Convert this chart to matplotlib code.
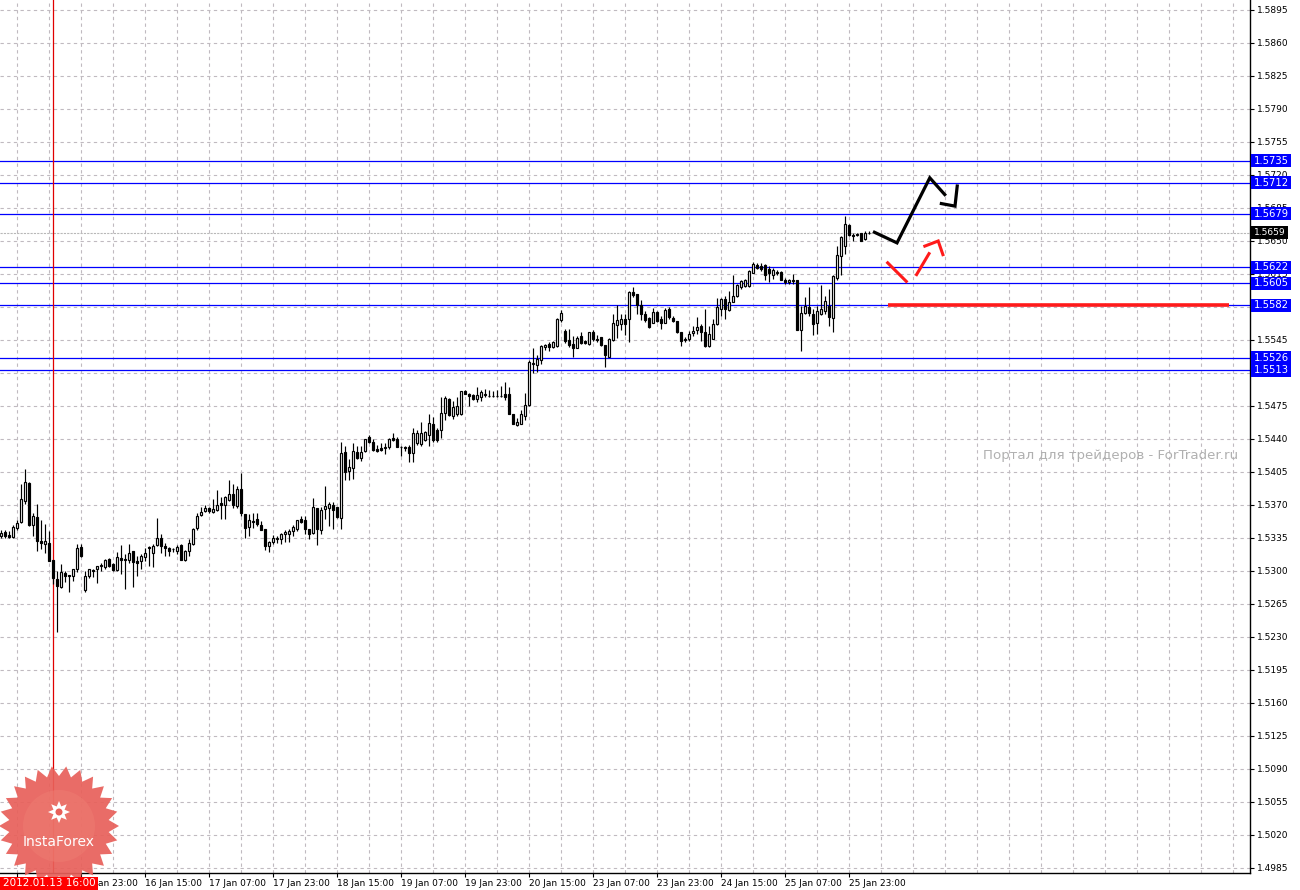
import matplotlib
matplotlib.use('Agg')
import matplotlib.pyplot as plt
import matplotlib.transforms as mtransforms
from matplotlib.patches import Rectangle, Polygon
import numpy as np

# ---------------- data (hourly bars) ----------------
opens = [
    1.5337, 1.5341, 1.5338, 1.5336, 1.5346, 1.5352, 1.5374, 1.5393, 1.5349, 1.5357,
    1.5332, 1.5329, 1.5330, 1.5312, 1.5292, 1.5283, 1.5298, 1.5296, 1.5295, 1.5302,
    1.5325, 1.5280, 1.5295, 1.5301, 1.5302, 1.5305, 1.5304, 1.5313, 1.5307, 1.5301,
    1.5314, 1.5313, 1.5312, 1.5321, 1.5311, 1.5311, 1.5315, 1.5325, 1.5319, 1.5328,
    1.5335, 1.5326, 1.5324, 1.5323, 1.5321, 1.5328, 1.5312, 1.5321, 1.5329, 1.5346,
    1.5359, 1.5364, 1.5367, 1.5363, 1.5365, 1.5372, 1.5370, 1.5375, 1.5382, 1.5369,
    1.5387, 1.5360, 1.5347, 1.5352, 1.5355, 1.5349, 1.5345, 1.5327, 1.5331, 1.5334,
    1.5334, 1.5339, 1.5339, 1.5342, 1.5345, 1.5355, 1.5354, 1.5345, 1.5340, 1.5367,
    1.5344, 1.5366, 1.5367, 1.5370, 1.5368, 1.5356, 1.5426, 1.5406, 1.5409, 1.5426,
    1.5420, 1.5427, 1.5442, 1.5437, 1.5429, 1.5430, 1.5430, 1.5431, 1.5441, 1.5440,
    1.5431, 1.5431, 1.5431, 1.5425, 1.5436, 1.5435, 1.5439, 1.5444, 1.5456, 1.5450,
    1.5450, 1.5468, 1.5482, 1.5464, 1.5466, 1.5466, 1.5491, 1.5488, 1.5487, 1.5482,
    1.5485, 1.5488, 1.5486, 1.5486, 1.5486, 1.5486, 1.5488, 1.5488, 1.5467, 1.5455,
    1.5456, 1.5464, 1.5476, 1.5520, 1.5519, 1.5524, 1.5538, 1.5541, 1.5538, 1.5539,
    1.5566, 1.5555, 1.5545, 1.5541, 1.5537, 1.5549, 1.5544, 1.5541, 1.5554, 1.5546,
    1.5548, 1.5540, 1.5527, 1.5545, 1.5561, 1.5562, 1.5567, 1.5567, 1.5596, 1.5594,
    1.5582, 1.5573, 1.5568, 1.5563, 1.5575, 1.5567, 1.5563, 1.5578, 1.5568, 1.5565,
    1.5553, 1.5546, 1.5546, 1.5552, 1.5556, 1.5560, 1.5554, 1.5539, 1.5546, 1.5562,
    1.5578, 1.5589, 1.5577, 1.5585, 1.5592, 1.5601, 1.5602, 1.5602, 1.5616, 1.5625,
    1.5624, 1.5625, 1.5620, 1.5614, 1.5617, 1.5617, 1.5609, 1.5607, 1.5609, 1.5609,
    1.5556, 1.5574, 1.5580, 1.5573, 1.5563, 1.5573, 1.5576, 1.5581, 1.5568, 1.5611,
    1.5634, 1.5645, 1.5667, 1.5656, 1.5656, 1.5658, 1.5652, 1.5659,
]
highs = [
    1.5344, 1.5344, 1.5342, 1.5349, 1.5354, 1.5392, 1.5408, 1.5394, 1.5362, 1.5371,
    1.5354, 1.5350, 1.5342, 1.5312, 1.5300, 1.5307, 1.5300, 1.5296, 1.5302, 1.5329,
    1.5329, 1.5300, 1.5302, 1.5302, 1.5305, 1.5308, 1.5313, 1.5314, 1.5308, 1.5320,
    1.5328, 1.5318, 1.5329, 1.5321, 1.5316, 1.5318, 1.5324, 1.5327, 1.5329, 1.5356,
    1.5339, 1.5330, 1.5325, 1.5324, 1.5328, 1.5329, 1.5322, 1.5334, 1.5346, 1.5361,
    1.5368, 1.5370, 1.5368, 1.5376, 1.5386, 1.5379, 1.5380, 1.5397, 1.5392, 1.5390,
    1.5404, 1.5360, 1.5360, 1.5362, 1.5361, 1.5353, 1.5345, 1.5332, 1.5338, 1.5337,
    1.5340, 1.5344, 1.5345, 1.5349, 1.5354, 1.5358, 1.5358, 1.5345, 1.5377, 1.5367,
    1.5368, 1.5390, 1.5373, 1.5373, 1.5368, 1.5437, 1.5433, 1.5419, 1.5436, 1.5433,
    1.5433, 1.5440, 1.5444, 1.5440, 1.5434, 1.5436, 1.5436, 1.5441, 1.5446, 1.5442,
    1.5433, 1.5433, 1.5434, 1.5452, 1.5450, 1.5458, 1.5448, 1.5466, 1.5463, 1.5452,
    1.5485, 1.5486, 1.5483, 1.5480, 1.5485, 1.5491, 1.5492, 1.5489, 1.5488, 1.5495,
    1.5492, 1.5493, 1.5492, 1.5491, 1.5492, 1.5496, 1.5500, 1.5495, 1.5467, 1.5462,
    1.5471, 1.5489, 1.5524, 1.5536, 1.5529, 1.5540, 1.5541, 1.5543, 1.5544, 1.5568,
    1.5577, 1.5557, 1.5557, 1.5549, 1.5549, 1.5554, 1.5545, 1.5554, 1.5556, 1.5550,
    1.5548, 1.5540, 1.5547, 1.5573, 1.5582, 1.5573, 1.5573, 1.5597, 1.5601, 1.5594,
    1.5587, 1.5576, 1.5569, 1.5579, 1.5576, 1.5570, 1.5579, 1.5580, 1.5570, 1.5565,
    1.5554, 1.5548, 1.5555, 1.5560, 1.5569, 1.5562, 1.5578, 1.5560, 1.5567, 1.5590,
    1.5590, 1.5592, 1.5597, 1.5614, 1.5604, 1.5609, 1.5610, 1.5619, 1.5628, 1.5627,
    1.5627, 1.5626, 1.5623, 1.5621, 1.5619, 1.5618, 1.5611, 1.5610, 1.5615, 1.5609,
    1.5581, 1.5591, 1.5601, 1.5578, 1.5581, 1.5603, 1.5592, 1.5599, 1.5614, 1.5645,
    1.5655, 1.5677, 1.5668, 1.5659, 1.5659, 1.5659, 1.5661, 1.5661,
]
lows = [
    1.5335, 1.5335, 1.5335, 1.5335, 1.5344, 1.5351, 1.5371, 1.5348, 1.5337, 1.5321,
    1.5323, 1.5319, 1.5311, 1.5286, 1.5235, 1.5282, 1.5288, 1.5278, 1.5289, 1.5299,
    1.5315, 1.5278, 1.5293, 1.5294, 1.5287, 1.5300, 1.5302, 1.5304, 1.5300, 1.5300,
    1.5297, 1.5281, 1.5308, 1.5283, 1.5295, 1.5302, 1.5311, 1.5305, 1.5304, 1.5326,
    1.5319, 1.5316, 1.5316, 1.5320, 1.5318, 1.5312, 1.5311, 1.5316, 1.5328, 1.5344,
    1.5358, 1.5363, 1.5362, 1.5362, 1.5364, 1.5355, 1.5355, 1.5374, 1.5367, 1.5367,
    1.5358, 1.5335, 1.5337, 1.5346, 1.5348, 1.5343, 1.5322, 1.5320, 1.5329, 1.5330,
    1.5329, 1.5331, 1.5331, 1.5337, 1.5342, 1.5351, 1.5339, 1.5334, 1.5339, 1.5328,
    1.5339, 1.5355, 1.5348, 1.5345, 1.5356, 1.5345, 1.5397, 1.5397, 1.5398, 1.5419,
    1.5417, 1.5426, 1.5436, 1.5427, 1.5426, 1.5427, 1.5424, 1.5429, 1.5438, 1.5431,
    1.5422, 1.5427, 1.5416, 1.5416, 1.5434, 1.5433, 1.5438, 1.5433, 1.5437, 1.5437,
    1.5441, 1.5460, 1.5464, 1.5461, 1.5464, 1.5465, 1.5488, 1.5475, 1.5481, 1.5479,
    1.5480, 1.5485, 1.5485, 1.5485, 1.5485, 1.5485, 1.5481, 1.5467, 1.5456, 1.5454,
    1.5456, 1.5460, 1.5475, 1.5510, 1.5511, 1.5520, 1.5534, 1.5533, 1.5537, 1.5538,
    1.5564, 1.5542, 1.5538, 1.5527, 1.5536, 1.5541, 1.5541, 1.5540, 1.5544, 1.5543,
    1.5539, 1.5516, 1.5527, 1.5544, 1.5547, 1.5556, 1.5550, 1.5543, 1.5591, 1.5573,
    1.5566, 1.5564, 1.5558, 1.5563, 1.5564, 1.5557, 1.5563, 1.5567, 1.5564, 1.5552,
    1.5539, 1.5543, 1.5544, 1.5549, 1.5551, 1.5544, 1.5538, 1.5538, 1.5546, 1.5561,
    1.5570, 1.5567, 1.5576, 1.5585, 1.5591, 1.5599, 1.5601, 1.5601, 1.5616, 1.5620,
    1.5618, 1.5609, 1.5607, 1.5610, 1.5614, 1.5609, 1.5604, 1.5604, 1.5604, 1.5556,
    1.5533, 1.5573, 1.5570, 1.5550, 1.5551, 1.5572, 1.5573, 1.5560, 1.5554, 1.5609,
    1.5614, 1.5636, 1.5655, 1.5650, 1.5655, 1.5650, 1.5651, 1.5657,
]
closes = [
    1.5340, 1.5337, 1.5336, 1.5347, 1.5351, 1.5376, 1.5394, 1.5349, 1.5358, 1.5332,
    1.5330, 1.5332, 1.5311, 1.5293, 1.5284, 1.5299, 1.5295, 1.5295, 1.5302, 1.5324,
    1.5316, 1.5295, 1.5302, 1.5300, 1.5305, 1.5306, 1.5312, 1.5305, 1.5301, 1.5315,
    1.5312, 1.5312, 1.5319, 1.5310, 1.5309, 1.5316, 1.5319, 1.5324, 1.5327, 1.5335,
    1.5327, 1.5324, 1.5321, 1.5323, 1.5325, 1.5312, 1.5321, 1.5330, 1.5345, 1.5358,
    1.5363, 1.5367, 1.5364, 1.5366, 1.5370, 1.5370, 1.5378, 1.5382, 1.5370, 1.5387,
    1.5361, 1.5346, 1.5354, 1.5353, 1.5350, 1.5344, 1.5326, 1.5331, 1.5335, 1.5335,
    1.5339, 1.5341, 1.5342, 1.5347, 1.5354, 1.5352, 1.5345, 1.5339, 1.5368, 1.5345,
    1.5365, 1.5369, 1.5371, 1.5365, 1.5357, 1.5425, 1.5405, 1.5410, 1.5427, 1.5420,
    1.5426, 1.5440, 1.5437, 1.5428, 1.5427, 1.5428, 1.5431, 1.5440, 1.5439, 1.5432,
    1.5431, 1.5430, 1.5425, 1.5446, 1.5446, 1.5446, 1.5447, 1.5457, 1.5439, 1.5439,
    1.5468, 1.5484, 1.5465, 1.5474, 1.5475, 1.5491, 1.5488, 1.5486, 1.5482, 1.5487,
    1.5490, 1.5487, 1.5486, 1.5486, 1.5486, 1.5486, 1.5485, 1.5467, 1.5456, 1.5458,
    1.5466, 1.5476, 1.5522, 1.5521, 1.5525, 1.5539, 1.5540, 1.5538, 1.5543, 1.5567,
    1.5574, 1.5544, 1.5540, 1.5537, 1.5547, 1.5542, 1.5542, 1.5553, 1.5546, 1.5545,
    1.5540, 1.5529, 1.5546, 1.5563, 1.5566, 1.5567, 1.5562, 1.5596, 1.5593, 1.5582,
    1.5573, 1.5566, 1.5559, 1.5575, 1.5565, 1.5563, 1.5577, 1.5569, 1.5565, 1.5553,
    1.5544, 1.5545, 1.5551, 1.5555, 1.5559, 1.5554, 1.5539, 1.5551, 1.5562, 1.5580,
    1.5589, 1.5578, 1.5585, 1.5592, 1.5603, 1.5608, 1.5609, 1.5618, 1.5626, 1.5621,
    1.5620, 1.5614, 1.5616, 1.5619, 1.5616, 1.5609, 1.5607, 1.5609, 1.5608, 1.5556,
    1.5574, 1.5581, 1.5574, 1.5562, 1.5576, 1.5578, 1.5586, 1.5569, 1.5613, 1.5635,
    1.5654, 1.5668, 1.5656, 1.5655, 1.5657, 1.5650, 1.5659, 1.5659,
]

# first label sits under the red cursor-time box in the reference (hidden)
time_labels = ["", "13 Jan 23:00", "16 Jan 15:00", "17 Jan 07:00",
               "17 Jan 23:00", "18 Jan 15:00", "19 Jan 07:00", "19 Jan 23:00",
               "20 Jan 15:00", "23 Jan 07:00", "23 Jan 23:00", "24 Jan 15:00",
               "25 Jan 07:00", "25 Jan 23:00"]

level_prices = [1.5735, 1.5712, 1.5679, 1.5622, 1.5605, 1.5582, 1.5526, 1.5513]
bid_price = 1.5659
cursor_bar = 13
cursor_label = "2012.01.13 16:00"

# hand-drawn forecast (bar index, price)
black_path_1 = [(218.0, 1.5660), (224.0, 1.5648), (232.2, 1.5717), (236.2, 1.5698)]
black_path_2 = [(234.7, 1.5690), (238.5, 1.5687), (239.1, 1.5710)]
red_stroke_1 = [(221.4, 1.5628), (226.6, 1.5606)]
red_stroke_2 = [(228.7, 1.5613), (232.2, 1.5638)]
red_head = [(230.6, 1.5644), (234.3, 1.5650), (235.6, 1.5634)]
red_support = [(221.8, 1.5582), (307.0, 1.5582)]

# ---------------- figure ----------------
W, H = 1300, 890
fig = plt.figure(figsize=(13, 8.9), dpi=100)
fig.patch.set_facecolor('white')
ax_right_px, ax_bottom_px = 1250, 873
ax = fig.add_axes([0, (H - ax_bottom_px) / H, ax_right_px / W, ax_bottom_px / H])
ax.set_facecolor('white')

px_per_bar = 4.0
x0 = -0.25
ax.set_xlim(x0, x0 + ax_right_px / px_per_bar)
price_per_px = 0.091 / 858.0
ax.set_ylim(1.5895 - (ax_bottom_px - 10) * price_per_px, 1.5895 + 10 * price_per_px)

grid_col = '#c0bac0'
yt = np.round(1.4985 + 0.0035 * np.arange(27), 4)
for p in yt:
    ax.axhline(p, color=grid_col, lw=0.8, ls=(0, (3, 3)), zorder=1)
for b in np.arange(4, 312, 8):
    ax.axvline(b, color=grid_col, lw=0.8, ls=(0, (3, 3)), zorder=1)

# levels
for p in level_prices:
    ax.axhline(p, color='#0000ff', lw=0.9, zorder=2)
ax.axhline(bid_price, color='#b8b8b8', lw=0.8, ls=(0, (2, 1)), zorder=2)
ax.axvline(cursor_bar, color='#e00000', lw=0.9, zorder=2)

# candles
o = np.array(opens); h = np.array(highs); l = np.array(lows); c = np.array(closes)
xs = np.arange(len(o))
up = c >= o
ax.vlines(xs, l, h, color='black', lw=0.85, zorder=4)
ax.bar(xs, np.abs(c - o), bottom=np.minimum(o, c), width=0.62,
       color=np.where(up, 'white', 'black'), edgecolor='black', linewidth=0.85, zorder=5)

# forecast drawings
def draw(path, col, lw):
    a = np.array(path)
    ax.plot(a[:, 0], a[:, 1], color=col, lw=lw, solid_capstyle='butt',
            solid_joinstyle='miter', zorder=6)

draw(black_path_1, 'black', 2.3)
draw(black_path_2, 'black', 2.3)
draw(red_stroke_1, '#ff1a1a', 2.2)
draw(red_stroke_2, '#ff1a1a', 2.2)
draw(red_head, '#ff1a1a', 2.2)
draw(red_support, '#ff1a1a', 2.6)

# axes styling
for s in ['top', 'left']:
    ax.spines[s].set_visible(False)
for s in ['right', 'bottom']:
    ax.spines[s].set_color('black')
    ax.spines[s].set_linewidth(1.0)
ax.yaxis.tick_right()
ax.set_yticks(yt)
# tick labels fully covered by level boxes are left blank (hidden in the reference)
covered = [p for p in yt if any(abs(p - q) < 0.00045 for q in level_prices)]
ax.set_yticklabels(["" if v in covered else f"{v:.4f}" for v in yt])
ax.tick_params(axis='y', direction='out', length=3, width=0.8, pad=2,
               labelsize=6.5, colors='black')
ax.set_xticks(4 + 16 * np.arange(len(time_labels)))
ax.set_xticklabels(time_labels, ha='left')
ax.tick_params(axis='x', direction='out', length=3, width=0.8, pad=1.5,
               labelsize=6.5, colors='black')

# price boxes on right axis
bt = mtransforms.blended_transform_factory(ax.transAxes, ax.transData)
box_w = 40 / ax_right_px
box_h = 13 * price_per_px
for p in level_prices:
    ax.add_patch(Rectangle((1.0008, p - box_h / 2), box_w, box_h, transform=bt,
                           facecolor='#0000ff', edgecolor='none', clip_on=False, zorder=10))
    ax.text(1.0008 + box_w / 2, p, f"{p:.4f}", transform=bt, ha='center', va='center',
            color='white', fontsize=7.2, zorder=11, clip_on=False)
ax.add_patch(Rectangle((1.0008, bid_price - box_h / 2), 37 / ax_right_px, box_h, transform=bt,
                       facecolor='black', edgecolor='none', clip_on=False, zorder=10))
ax.text(1.0008 + 18.5 / ax_right_px, bid_price, f"{bid_price:.4f}", transform=bt,
        ha='center', va='center', color='white', fontsize=6.5, zorder=11, clip_on=False)

# watermark
ax.text(1238 / ax_right_px, 1 - 455 / ax_bottom_px, "Портал для трейдеров - ForTrader.ru",
        transform=ax.transAxes, ha='right', va='center', color='#b0b0b0', fontsize=9.6,
        zorder=3)

# overlay for logo and cursor time label (pixel space)
ov = fig.add_axes([0, 0, 1, 1], zorder=20)
ov.set_xlim(0, W); ov.set_ylim(H, 0); ov.axis('off')
n = 26
ang = np.linspace(0, 2 * np.pi, 2 * n, endpoint=False)
rad = np.where(np.arange(2 * n) % 2 == 0, 60, 50)
cx, cy = 59, 826
star = np.column_stack([cx + rad * np.cos(ang), cy + rad * np.sin(ang)])
ov.add_patch(Polygon(star, closed=True, facecolor='#e8605a', edgecolor='none', alpha=0.92))
ov.add_patch(plt.Circle((cx, cy), 36, color='#ee7a70', alpha=0.6, lw=0))
m = 8
ang2 = np.linspace(0, 2 * np.pi, 2 * m, endpoint=False)
rad2 = np.where(np.arange(2 * m) % 2 == 0, 11, 6)
icon = np.column_stack([cx + rad2 * np.cos(ang2), 812 + rad2 * np.sin(ang2)])
ov.add_patch(Polygon(icon, closed=True, facecolor='white', edgecolor='none'))
ov.add_patch(plt.Circle((cx, 812), 3.5, color='#e8605a', lw=0))
ov.text(cx, 842, "InstaForex", color='white', fontsize=10, ha='center', va='center')
ov.add_patch(Rectangle((0, 877), 98, 13, facecolor='#ff0000', edgecolor='none'))
ov.text(49, 883.5, cursor_label, color='white', fontsize=7.5, ha='center', va='center')

fig.savefig('out.png', dpi=100, facecolor='white')
